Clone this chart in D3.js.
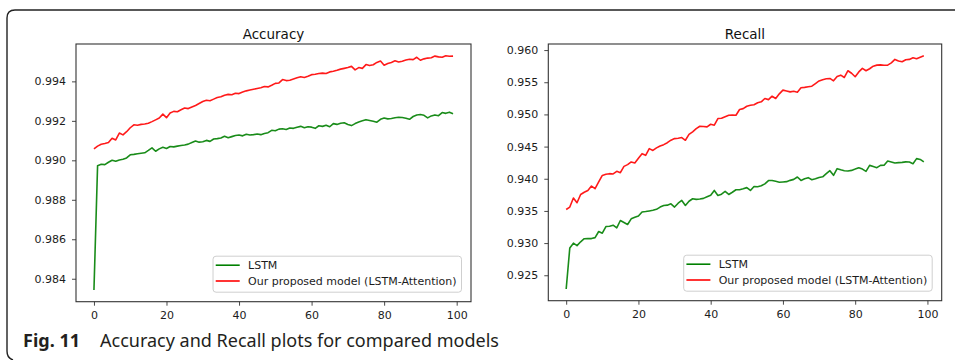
<!DOCTYPE html>
<html>
<head>
<meta charset="utf-8">
<script src="https://cdn.jsdelivr.net/npm/d3@7"></script>
<style>
  body { margin: 0; background: #fff; }
  svg { display: block; }
  .axis text { font-family: 'DejaVu Sans', sans-serif; font-size: 11px; fill: #1c1c1c; }
  .axis line { stroke: #333; stroke-width: 0.9; }
  .title { font-family: 'DejaVu Sans', sans-serif; font-size: 13.5px; fill: #111; }
  .legend text { font-family: 'DejaVu Sans', sans-serif; font-size: 11px; fill: #1c1c1c; }
  .caption { font-family: 'Noto Sans', sans-serif; font-size: 18px; fill: #231f20; }
</style>
</head>
<body>
<svg id="chart" width="955" height="360"></svg>
<script>
// Data (epoch index 0..99)
const epochs = d3.range(100)
const xTicks = [0, 20, 40, 60, 80, 100]
const accTicks = [0.984, 0.986, 0.988, 0.990, 0.992, 0.994]
const recTicks = [0.925, 0.930, 0.935, 0.940, 0.945, 0.950, 0.955, 0.960]
const seriesNames = ['LSTM', 'Our proposed model (LSTM-Attention)']
const panelTitles = ['Accuracy', 'Recall']

const accuracyLstm = [
  0.98343, 0.98973, 0.98980, 0.98978, 0.98990, 0.99000, 0.98995, 0.99002, 0.99005, 0.99012,
  0.99028, 0.99030, 0.99033, 0.99036, 0.99038, 0.99050, 0.99063, 0.99046, 0.99058, 0.99066,
  0.99060, 0.99070, 0.99068, 0.99072, 0.99075, 0.99078, 0.99082, 0.99090, 0.99098, 0.99092,
  0.99094, 0.99101, 0.99096, 0.99108, 0.99110, 0.99113, 0.99122, 0.99114, 0.99120, 0.99126,
  0.99128, 0.99124, 0.99132, 0.99128, 0.99130, 0.99133, 0.99130, 0.99136, 0.99140, 0.99152,
  0.99150, 0.99158, 0.99160, 0.99156, 0.99164, 0.99162, 0.99168, 0.99172, 0.99165, 0.99170,
  0.99168, 0.99162, 0.99175, 0.99172, 0.99178, 0.99170, 0.99186, 0.99182, 0.99188, 0.99190,
  0.99182, 0.99176, 0.99186, 0.99194, 0.99200, 0.99206, 0.99202, 0.99198, 0.99193, 0.99208,
  0.99214, 0.99210, 0.99212, 0.99216, 0.99218, 0.99217, 0.99213, 0.99208, 0.99222, 0.99230,
  0.99232, 0.99228, 0.99215, 0.99225, 0.99230, 0.99226, 0.99242, 0.99238, 0.99244, 0.99236
]
const accuracyAttn = [
  0.99058, 0.99072, 0.99081, 0.99085, 0.99090, 0.99112, 0.99103, 0.99138, 0.99129, 0.99145,
  0.99165, 0.99180, 0.99178, 0.99182, 0.99184, 0.99188, 0.99196, 0.99205, 0.99214, 0.99234,
  0.99216, 0.99240, 0.99248, 0.99246, 0.99256, 0.99265, 0.99262, 0.99270, 0.99278, 0.99288,
  0.99298, 0.99304, 0.99302, 0.99310, 0.99318, 0.99322, 0.99330, 0.99334, 0.99332, 0.99340,
  0.99338, 0.99346, 0.99352, 0.99356, 0.99360, 0.99364, 0.99368, 0.99374, 0.99372, 0.99380,
  0.99390, 0.99392, 0.99409, 0.99404, 0.99406, 0.99412, 0.99418, 0.99423, 0.99420, 0.99426,
  0.99434, 0.99436, 0.99440, 0.99442, 0.99440, 0.99448, 0.99451, 0.99456, 0.99462, 0.99466,
  0.99470, 0.99476, 0.99458, 0.99470, 0.99466, 0.99485, 0.99480, 0.99484, 0.99496, 0.99503,
  0.99482, 0.99490, 0.99496, 0.99504, 0.99498, 0.99502, 0.99508, 0.99512, 0.99510, 0.99522,
  0.99507, 0.99514, 0.99518, 0.99520, 0.99528, 0.99524, 0.99522, 0.99530, 0.99527, 0.99528
]
const recallLstm = [
  0.92286, 0.92925, 0.92999, 0.92961, 0.93020, 0.93068, 0.93072, 0.93070, 0.93085, 0.93180,
  0.93154, 0.93257, 0.93262, 0.93278, 0.93237, 0.93351, 0.93320, 0.93289, 0.93377, 0.93400,
  0.93420, 0.93482, 0.93490, 0.93500, 0.93510, 0.93525, 0.93560, 0.93585, 0.93590, 0.93610,
  0.93560, 0.93620, 0.93663, 0.93585, 0.93650, 0.93689, 0.93680, 0.93685, 0.93695, 0.93720,
  0.93745, 0.93818, 0.93740, 0.93760, 0.93803, 0.93756, 0.93790, 0.93829, 0.93830, 0.93845,
  0.93862, 0.93818, 0.93880, 0.93875, 0.93890, 0.93920, 0.93972, 0.93974, 0.93960, 0.93945,
  0.93950, 0.93955, 0.93975, 0.93990, 0.94027, 0.93974, 0.94000, 0.94017, 0.93985, 0.94000,
  0.94020, 0.94030, 0.94080, 0.94125, 0.94053, 0.94157, 0.94140, 0.94125, 0.94120, 0.94130,
  0.94150, 0.94172, 0.94150, 0.94115, 0.94208, 0.94190, 0.94172, 0.94208, 0.94210, 0.94276,
  0.94260, 0.94245, 0.94250, 0.94255, 0.94262, 0.94261, 0.94234, 0.94313, 0.94300, 0.94261
]
const recallAttn = [
  0.93522, 0.93560, 0.93700, 0.93627, 0.93756, 0.93790, 0.93818, 0.93887, 0.93845, 0.93950,
  0.94052, 0.94070, 0.94079, 0.94075, 0.94115, 0.94094, 0.94192, 0.94220, 0.94261, 0.94245,
  0.94320, 0.94390, 0.94364, 0.94468, 0.94440, 0.94480, 0.94510, 0.94530, 0.94560, 0.94600,
  0.94624, 0.94630, 0.94640, 0.94598, 0.94690, 0.94730, 0.94780, 0.94816, 0.94812, 0.94806,
  0.94847, 0.94832, 0.94936, 0.94940, 0.94965, 0.94987, 0.94990, 0.94987, 0.95076, 0.95090,
  0.95127, 0.95143, 0.95150, 0.95180, 0.95196, 0.95247, 0.95230, 0.95283, 0.95247, 0.95320,
  0.95377, 0.95365, 0.95350, 0.95360, 0.95345, 0.95414, 0.95420, 0.95430, 0.95439, 0.95480,
  0.95520, 0.95540, 0.95555, 0.95559, 0.95522, 0.95590, 0.95610, 0.95574, 0.95679, 0.95640,
  0.95585, 0.95660, 0.95715, 0.95679, 0.95710, 0.95750, 0.95766, 0.95770, 0.95765, 0.95766,
  0.95800, 0.95855, 0.95830, 0.95819, 0.95850, 0.95855, 0.95880, 0.95866, 0.95890, 0.95913
]

const colours = ['#008000', '#ff0000']

const panels = [
  { title: panelTitles[0], series: [accuracyLstm, accuracyAttn], yTicks: accTicks,
    box: { left: 76, right: 471, top: 44, bottom: 301.7 } },
  { title: panelTitles[1], series: [recallLstm, recallAttn], yTicks: recTicks,
    box: { left: 548.3, right: 941.7, top: 44, bottom: 300.7 } }
]

let svg = d3.select('#chart')

drawFrame(svg)
panels.forEach((p) => drawPanel(svg, p))
drawCaption(svg)

// matplotlib style 5% margins
function padExtent (ext) {
  let pad = (ext[1] - ext[0]) * 0.05
  return [ext[0] - pad, ext[1] + pad]
}

function drawFrame (svg) {
  svg.append('path')
    .attr('d', 'M 13 360 Q 7 358 7 351 L 7 18 Q 7 10 15 10 L 955 10')
    .attr('fill', 'none')
    .attr('stroke', '#222')
    .attr('stroke-width', 1.4)
}

function drawPanel (svg, p) {
  let { left, right, top, bottom } = p.box
  let w = right - left
  let h = bottom - top

  let xScale = d3.scaleLinear()
    .domain(padExtent(d3.extent(epochs)))
    .range([0, w])
  let yScale = d3.scaleLinear()
    .domain(padExtent(d3.extent(p.series.flat())))
    .range([h, 0])

  let g = svg.append('g')
    .attr('transform', `translate(${left},${top})`)

  // Axes
  let gx = g.append('g')
    .attr('class', 'axis')
    .attr('transform', `translate(0,${h})`)
    .call(d3.axisBottom(xScale).tickValues(xTicks).tickSizeOuter(0).tickSize(4).tickPadding(6))
  let gy = g.append('g')
    .attr('class', 'axis')
    .call(d3.axisLeft(yScale).tickValues(p.yTicks).tickFormat(d3.format('.3f'))
      .tickSizeOuter(0).tickSize(4).tickPadding(6))
  gx.select('.domain').remove()
  gy.select('.domain').remove()

  // Lines
  let line = d3.line()
    .x((d, i) => xScale(epochs[i]))
    .y((d) => yScale(d))
  p.series.forEach((s, i) => {
    g.append('path')
      .datum(s)
      .attr('d', line)
      .attr('fill', 'none')
      .attr('stroke', colours[i])
      .attr('stroke-width', 1.6)
      .attr('stroke-linejoin', 'round')
      .attr('opacity', 0.9)
  })

  // Spines
  g.append('rect')
    .attr('width', w)
    .attr('height', h)
    .attr('fill', 'none')
    .attr('stroke', '#333')
    .attr('stroke-width', 1.1)

  g.append('text')
    .attr('class', 'title')
    .attr('x', w / 2)
    .attr('y', -5)
    .attr('text-anchor', 'middle')
    .text(p.title)

  drawLegend(g, w, h)
}

function drawLegend (g, w, h) {
  let lg = g.append('g').attr('class', 'legend')
  let box = lg.append('rect')
  let items = seriesNames.map((name, i) => {
    let row = lg.append('g').attr('transform', `translate(0,${9 + i * 15.8})`)
    row.append('line')
      .attr('x1', 2.7).attr('x2', 26.7)
      .attr('stroke', colours[i])
      .attr('stroke-width', 1.6)
    return row.append('text')
      .attr('x', 35)
      .attr('dy', '0.36em')
      .text(name)
  })
  let textW = d3.max(items, (t) => t.node().getComputedTextLength())
  let bw = 35 + textW + 5
  let bh = 36
  box.attr('width', bw)
    .attr('height', bh)
    .attr('rx', 3)
    .attr('fill', '#fff')
    .attr('fill-opacity', 0.8)
    .attr('stroke', '#cfcfcf')
    .attr('stroke-width', 1)
  lg.attr('transform', `translate(${w - 9.5 - bw},${h - 9.5 - bh})`)
}

function drawCaption (svg) {
  let cap = svg.append('text')
    .attr('class', 'caption')
    .attr('x', 23)
    .attr('y', 347)
  cap.append('tspan')
    .attr('font-weight', 'bold')
    .text('Fig. 11')
  cap.append('tspan')
    .attr('x', 100)
    .text('Accuracy and Recall plots for compared models')
}
</script>
</body>
</html>
